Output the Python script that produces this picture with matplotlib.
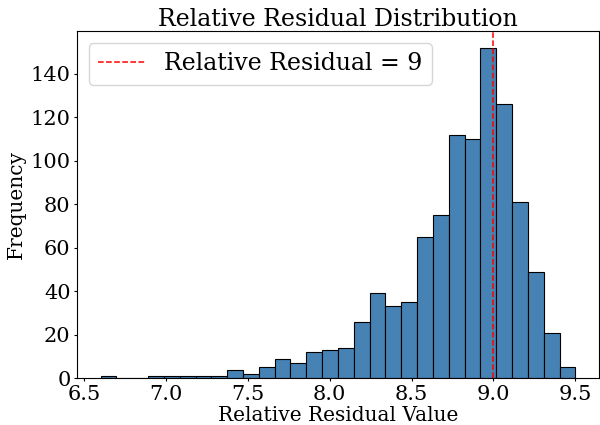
import matplotlib
matplotlib.use("Agg")
import matplotlib.pyplot as plt
import numpy as np

bin_start = 6.6
bin_end = 9.5
counts = [1, 0, 0, 1, 1, 1, 1, 1, 4, 2,
          5, 9, 7, 12, 13, 14, 26, 39, 33, 35,
          65, 75, 112, 110, 152, 126, 81, 49, 21, 5]
ref_value = 9

plt.rcParams['font.family'] = 'DejaVu Serif'
edges = np.linspace(bin_start, bin_end, len(counts) + 1)
centers = (edges[:-1] + edges[1:]) / 2

fig, ax = plt.subplots(figsize=(6, 4.25), dpi=100)
ax.hist(centers, bins=edges, weights=counts, color='steelblue', edgecolor='black', linewidth=0.8)
ax.axvline(ref_value, color='red', linestyle='--', linewidth=1.1, label=f'Relative Residual = {ref_value}')
ax.set_title('Relative Residual Distribution', fontsize=17, pad=3)
ax.set_xlabel('Relative Residual Value', fontsize=14.5, labelpad=2)
ax.set_ylabel('Frequency', fontsize=14.5, labelpad=3)
ax.tick_params(axis='both', labelsize=15, length=2.5, pad=2)
ax.legend(fontsize=17, loc='upper left')
fig.subplots_adjust(left=0.128, right=0.9985, top=0.927, bottom=0.11)
fig.savefig('out.png', dpi=100)
